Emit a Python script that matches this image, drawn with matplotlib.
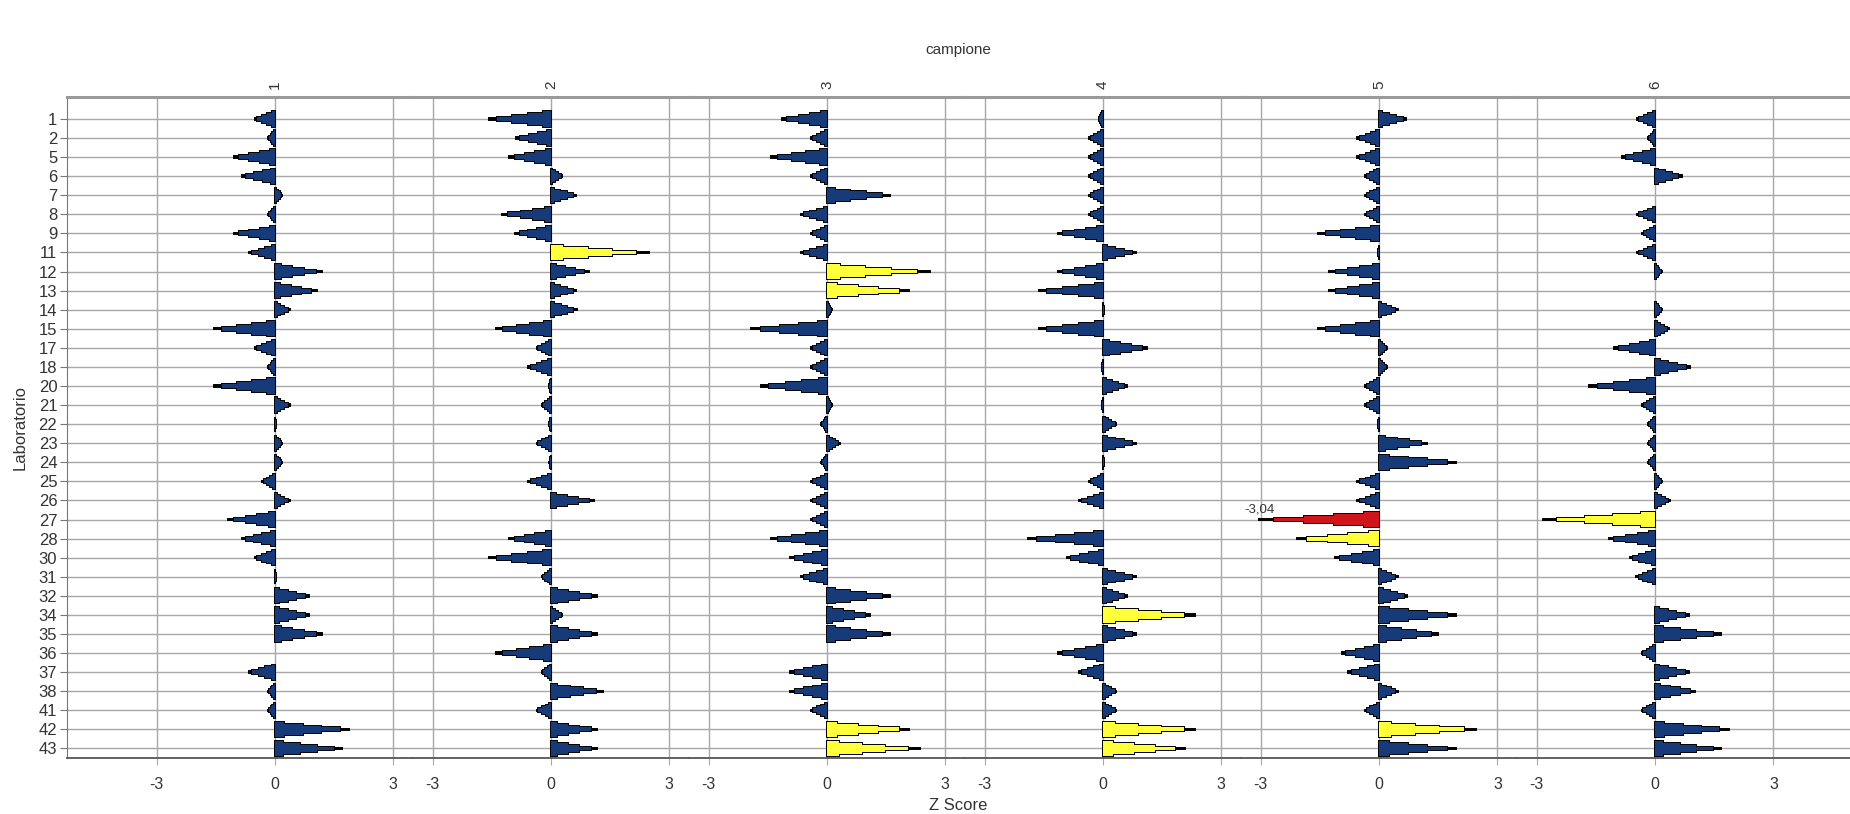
import matplotlib
matplotlib.use('Agg')
import matplotlib.pyplot as plt
import numpy as np
from matplotlib.transforms import blended_transform_factory

nan = np.nan
labs = ['1', '2', '5', '6', '7', '8', '9', '11', '12', '13', '14', '15', '17', '18',
        '20', '21', '22', '23', '24', '25', '26', '27', '28', '30', '31', '32', '34',
        '35', '36', '37', '38', '41', '42', '43']
samples = ['1', '2', '3', '4', '5', '6']

z_c1 = [-0.51, -0.17, -1.03, -0.83, 0.19, -0.17, -1.03, -0.65, 1.19, 1.06, 0.38, -1.53,
        -0.51, -0.17, -1.53, 0.38, 0.04, 0.19, 0.19, -0.32, 0.38, -1.18, -0.84, -0.51,
        0.04, 0.86, 0.86, 1.19, nan, -0.65, -0.17, -0.17, 1.89, 1.71]
z_c2 = [-1.56, -0.89, -1.05, 0.29, 0.64, -1.23, -0.91, 2.48, 0.97, 0.64, 0.65, -1.38,
        -0.36, -0.57, -0.05, -0.23, -0.05, -0.36, -0.04, -0.57, 1.09, nan, -1.05, -1.56,
        -0.23, 1.16, 0.29, 1.16, -1.38, -0.23, 1.32, -0.36, 1.16, 1.16]
z_c3 = [-1.15, -0.41, -1.41, -0.41, 1.59, -0.67, -0.41, -0.67, 2.60, 2.09, 0.13, -1.92,
        -0.41, -0.41, -1.68, 0.13, -0.14, 0.32, -0.14, -0.41, -0.41, -0.41, -1.41, -0.93,
        -0.67, 1.59, 1.10, 1.59, nan, -0.93, -0.93, -0.41, 2.09, 2.35]
z_c4 = [-0.11, -0.35, -0.35, -0.35, -0.35, -0.35, -1.15, 0.84, -1.15, -1.63, 0.03, -1.63,
        1.12, -0.03, 0.60, -0.03, 0.34, 0.84, 0.03, -0.35, -0.61, nan, -1.91, -0.92,
        0.84, 0.60, 2.34, 0.84, -1.15, -0.61, 0.34, 0.34, 2.34, 2.09]
z_c5 = [0.68, -0.55, -0.55, -0.35, -0.35, -0.35, -1.55, -0.03, -1.26, -1.26, 0.47, -1.55,
        0.21, 0.21, -0.35, -0.35, -0.03, 1.21, 1.96, -0.55, -0.55, -3.04, -2.09, -1.12,
        0.47, 0.71, 1.96, 1.49, -0.95, -0.78, 0.47, -0.35, 2.45, 1.96]
z_c6 = [-0.47, -0.18, -0.85, 0.67, nan, -0.47, -0.33, -0.47, 0.17, nan, 0.17, 0.34,
        -1.04, 0.88, -1.67, -0.33, -0.18, -0.18, -0.18, 0.17, 0.38, -2.84, -1.18, -0.64,
        -0.48, nan, 0.85, 1.67, -0.34, 0.85, 1.00, -0.34, 1.86, 1.67]
zscores = [z_c1, z_c2, z_c3, z_c4, z_c5, z_c6]

BLUE = '#173a78'
YELLOW = '#ffff3a'
RED = '#d0141c'
GRID = '#a8a8a8'

def colour(z):
    a = abs(z)
    if a >= 3:
        return RED
    if a >= 2:
        return YELLOW
    return BLUE

# stepped "pyramid" bars: (fraction of length, thickness)
layers = [(1.0, 0.07), (0.875, 0.2), (0.625, 0.4), (0.375, 0.6), (0.125, 0.8)]

fig = plt.figure(figsize=(18.5, 8.14), dpi=100)
plt.rcParams['font.family'] = ['Liberation Sans', 'DejaVu Sans']

xl_first = (-5.27, 3.5)
xl_mid = (-3.5, 3.5)
xl_last = (-3.5, 4.94)
lims = [xl_first, xl_mid, xl_mid, xl_mid, xl_mid, xl_last]
widths = [b - a for a, b in lims]

gs = fig.add_gridspec(1, 6, left=67 / 1850, right=1.0, top=1 - 97 / 814,
                      bottom=1 - 758 / 814, wspace=0, width_ratios=widths)
ypos = np.arange(len(labs))
axes = []
for k in range(6):
    ax = fig.add_subplot(gs[0, k], sharey=axes[0] if axes else None)
    axes.append(ax)
    ax.set_xlim(*lims[k])
    ax.set_ylim(len(labs) - 0.5, -1.15)
    ax.set_axisbelow(True)
    ax.set_xticks([-3, 0, 3])
    ax.set_xticklabels(['-3', '0', '3'], fontsize=11.5, color='#333333')
    ax.grid(True, color=GRID, lw=1.0)
    ax.tick_params(axis='x', length=5, color=GRID, pad=9)
    for s in ['left', 'right']:
        ax.spines[s].set_visible(False)
    ax.spines['top'].set_color('#9a9a9a')
    ax.spines['top'].set_linewidth(2.2)
    ax.spines['bottom'].set_color('#555555')
    ax.spines['bottom'].set_linewidth(1.3)
    if k == 0:
        ax.spines['left'].set_visible(True)
        ax.spines['left'].set_color('#777777')
        ax.set_yticks(ypos)
        ax.set_yticklabels(labs, fontsize=12, color='#333333')
        ax.tick_params(axis='y', length=5, color='#777777', pad=2)
    else:
        ax.tick_params(axis='y', left=False, labelleft=False)

    z = np.array(zscores[k], dtype=float)
    ok = ~np.isnan(z)
    cols = [colour(v) for v in z[ok]]
    # pass 1: outlined layers
    for frac, h in layers:
        ax.barh(ypos[ok], z[ok] * frac, height=h, left=0, color=cols,
                edgecolor='black', linewidth=1.4, zorder=3)
    # pass 2: fills on top, so only the stepped outline remains
    for frac, h in layers[1:]:
        ax.barh(ypos[ok], z[ok] * frac, height=h, left=0, color=cols,
                linewidth=0, zorder=4)
    for i in np.where(ok)[0]:
        if abs(z[i]) >= 3:
            ax.text(z[i], i - 0.55, f"{z[i]:.2f}".replace('.', ','), ha='center',
                    va='center', fontsize=9.5, color='#333333', zorder=5)
    tr = blended_transform_factory(ax.transData, ax.transAxes)
    ax.text(0, 1.012, samples[k], transform=tr, rotation=90, ha='center',
            va='bottom', fontsize=11, color='#333333')

fig.text(958 / 1850, 1 - 50 / 814, 'campione', ha='center', va='center',
         fontsize=11, color='#333333')
fig.text(958 / 1850, 1 - 806 / 814, 'Z Score', ha='center', va='center',
         fontsize=12, color='#333333')
fig.text(20 / 1850, 1 - 428 / 814, 'Laboratorio', ha='center', va='center',
         rotation=90, fontsize=12, color='#333333')

fig.savefig('out.png', dpi=100, facecolor='white')
